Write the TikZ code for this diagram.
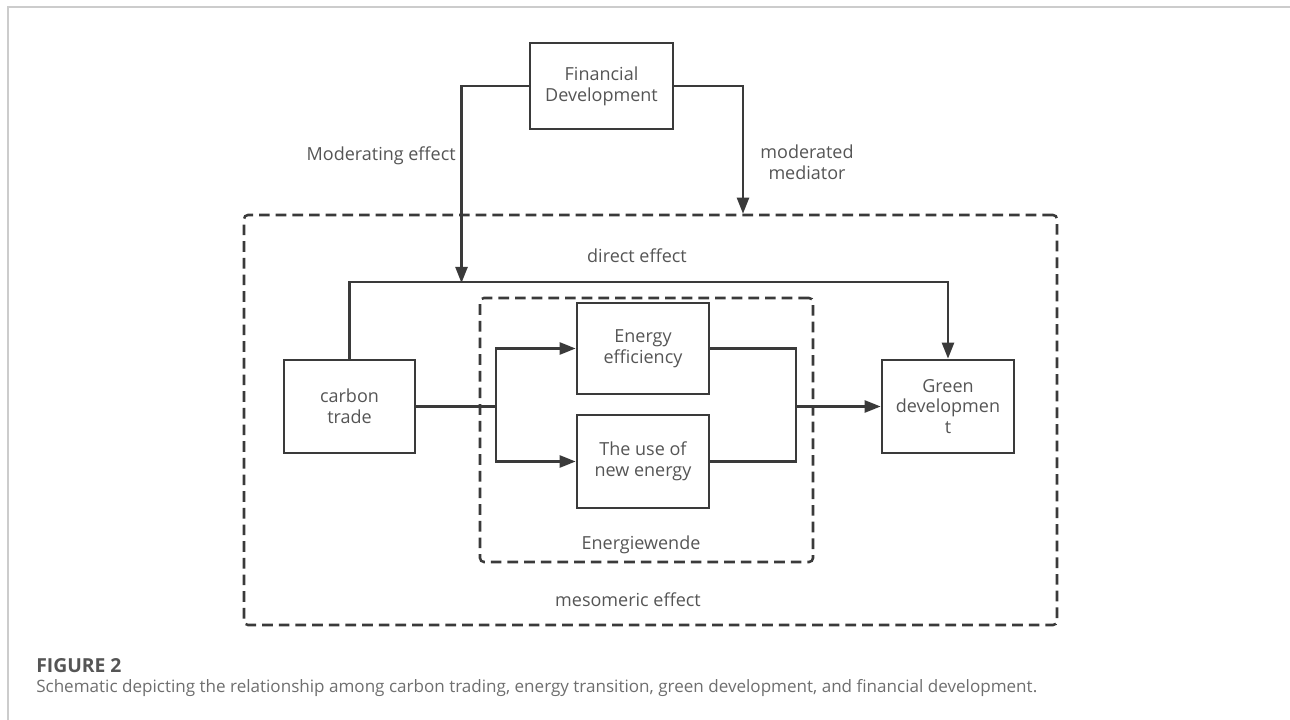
\documentclass[tikz,border=0pt]{standalone}
\usepackage{fontspec}
\setmainfont{Open Sans}
\usetikzlibrary{arrows.meta,calc}
\definecolor{ln}{HTML}{3A3A3A}
\definecolor{tx}{HTML}{555555}
\tikzset{
	blk/.style={draw=ln, line width=2pt, text=tx, align=center, inner sep=0pt},
	dbox/.style={draw=ln, line width=1.9pt, dash pattern=on 8pt off 4.5pt, rounded corners=3pt, inner sep=0pt},
	lbl/.style={text=tx, align=center, inner sep=0pt},
	arr/.style={draw=ln, line width=1.8pt, -{Triangle[length=12pt,width=9pt]}},
	con/.style={draw=ln, line width=1.8pt}
}
\begin{document}
\begin{tikzpicture}[x=0.75pt, y=-0.75pt, font=\fontsize{13.5}{15.5}\selectfont]
		\useasboundingbox (0,0) rectangle (1290,720);
		\draw[gray!40, line width=1pt] (8,720) -- (8,7) -- (1290,7);
%
		\node[dbox, minimum width=813*0.75pt, minimum height=410*0.75pt] (meso) at (650.5,420) {};
		\node[dbox, minimum width=333*0.75pt, minimum height=264*0.75pt] (wende) at (646.5,430) {};
%
		\node[blk, minimum width=143*0.75pt, minimum height=86*0.75pt] (fin) at (601.5,86) {Financial\\Development};
		\node[blk, minimum width=131*0.75pt, minimum height=93*0.75pt] (carbon) at (349.5,406.5) {carbon\\trade};
		\node[blk, minimum width=132*0.75pt, minimum height=91*0.75pt] (eff) at (643,348.5) {Energy\\efficiency};
		\node[blk, minimum width=132*0.75pt, minimum height=93*0.75pt] (newe) at (643,461.5) {The use of\\new energy};
		\node[blk, minimum width=132*0.75pt, minimum height=93*0.75pt] (green) at (948,406.5) {Green\\developmen\\t};
%
		\node[lbl, anchor=east] (modl) at (456,156) {Moderating effect};
		\node[lbl] (medl) at (807,162) {moderated\\mediator};
		\node[lbl] (dirl) at (637,256) {direct effect};
		\node[lbl] (wendl) at (641,545) {Energiewende};
		\node[lbl] (mesol) at (628,600) {mesomeric effect};
%
		\coordinate (mod) at (461.5,283);
		\coordinate (top) at (650,282);
		\coordinate (split) at (496,406.5);
		\coordinate (merge) at (796,406.5);
		\draw[arr] (fin.west) -| (mod);
		\draw[arr] (fin.east) -| (meso.north -| 743,0);
		\draw[arr] (carbon.north) |- (top) -| (green.north);
		\draw[con] (carbon.east) -- (split);
		\draw[arr] (split) |- (eff.west);
		\draw[arr] (split) |- (newe.west);
		\draw[con] (eff.east) -| (merge);
		\draw[con] (newe.east) -| (merge);
		\draw[arr] (merge) -- (green.west);
%
		\node[lbl, anchor=west, font=\fontsize{14.5}{16}\selectfont\bfseries] (fig) at (36,666) {FIGURE 2};
		\node[lbl, anchor=west, font=\fontsize{12.8}{15}\selectfont, text=tx!85] (cap) at (36,688) {Schematic depicting the relationship among carbon trading, energy transition, green development, and financial development.};
	\end{tikzpicture}
\end{document}
